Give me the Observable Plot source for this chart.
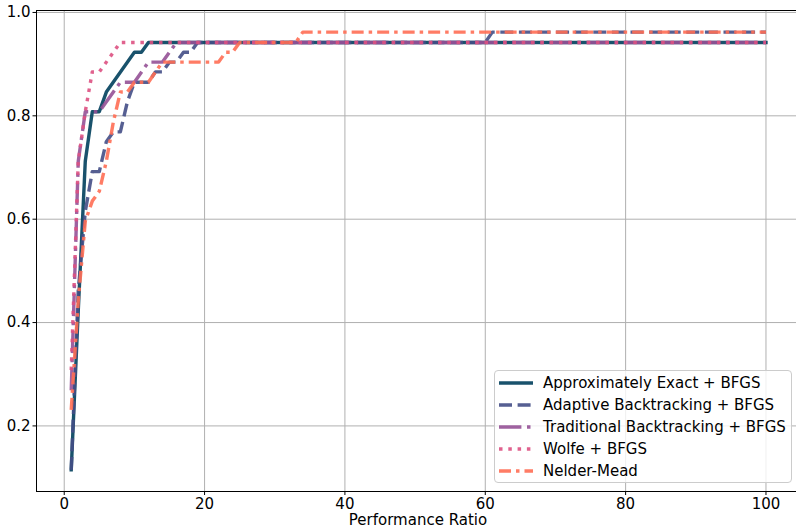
<!DOCTYPE html>
<html><head><meta charset="utf-8">
<script src="https://cdn.jsdelivr.net/npm/d3@7"></script>
<script src="https://cdn.jsdelivr.net/npm/@observablehq/plot@0.6"></script>
<style>
body{margin:0;background:#fff;}
#chart{position:relative;width:796px;height:528px;overflow:hidden;font-family:"DejaVu Sans",sans-serif;}
#legend{position:absolute;left:494px;top:370px;width:298px;height:113px;border:1px solid #cccccc;border-radius:4px;background:rgba(255,255,255,0.8);box-sizing:border-box;}
.row{position:absolute;left:0;height:22px;font-size:15px;line-height:22px;color:#000;white-space:nowrap;}
.row svg{position:absolute;left:3px;top:0;}
.row span{position:absolute;left:48px;top:0;}
#xlabel{position:absolute;left:36px;width:764px;top:513px;height:15px;line-height:15px;text-align:center;font-size:15px;color:#000;}
</style></head>
<body><div id="chart"></div>
<script>
// performance profile values (fraction of problems solved) at performance ratios
const seriesNames = ["Approximately Exact + BFGS","Adaptive Backtracking + BFGS","Traditional Backtracking + BFGS","Wolfe + BFGS","Nelder-Mead"];
const seriesColors = ["#003f5c","#444e86","#955196","#dd5182","#ff6e54"];
const seriesDash = ["none","13,5.6","22.4,5.6,3.5,5.6","3.5,5.8","12,5,3.5,5"];

const ratioApprox = [1,2,3,4,5,6,10,11,12,100];
const fracApprox  = [0.115,0.423,0.712,0.808,0.808,0.846,0.923,0.923,0.942,0.942];

const ratioAdaptive = [1,2,3,4,5,6,7,8,9,10,12,13,14,15,16,17,18,19,60,61,100];
const fracAdaptive  = [0.115,0.462,0.615,0.692,0.692,0.750,0.769,0.769,0.827,0.865,0.865,0.885,0.885,0.904,0.904,0.923,0.923,0.942,0.942,0.962,0.962];

const ratioTraditional = [1,2,3,5,8,10,12,14,16,100];
const fracTraditional  = [0.269,0.712,0.808,0.808,0.865,0.865,0.904,0.904,0.942,0.942];

const ratioWolfe = [1,2,3,4,5,8,100];
const fracWolfe  = [0.308,0.712,0.808,0.885,0.885,0.942,0.942];

const ratioNelder = [1,2,3,4,5,6,7,8,9,10,12,13,14,22,23,24,25,33,34,100];
const fracNelder  = [0.231,0.442,0.596,0.635,0.654,0.712,0.788,0.846,0.846,0.865,0.865,0.885,0.904,0.904,0.923,0.923,0.942,0.942,0.962,0.962];

const xTicks = [0,20,40,60,80,100];
const yTicks = [0.2,0.4,0.6,0.8,1.0];

const ratios = [ratioApprox,ratioAdaptive,ratioTraditional,ratioWolfe,ratioNelder];
const fracs = [fracApprox,fracAdaptive,fracTraditional,fracWolfe,fracNelder];
const series = seriesNames.map((name,i)=>({name,color:seriesColors[i],dash:seriesDash[i],
  rows: ratios[i].map((r,j)=>({r, v: fracs[i][j]}))}));

const xDomain = [-3.95, 104.35];
const yDomain = [0.0731, 1.0038];

const lineMarks = series.map(s => Plot.line(s.rows, {x:"r", y:"v", stroke:s.color, strokeWidth:3.4, strokeOpacity:0.9,
  strokeDasharray: s.dash, strokeLinecap: s.dash==="none" ? "square" : "butt", strokeLinejoin:"round"}));

const chart = Plot.plot({
  width: 796, height: 528,
  marginLeft: 36, marginRight: 0, marginTop: 10, marginBottom: 37,
  style: {fontFamily: "DejaVu Sans", fontSize: "15px", color: "#000", background: "#fff", overflow: "visible"},
  x: {domain: xDomain, label: null},
  y: {domain: yDomain, label: null},
  marks: [
    Plot.gridX(xTicks, {stroke: "#b0b0b0", strokeOpacity: 1, strokeWidth: 1}),
    Plot.gridY(yTicks, {stroke: "#b0b0b0", strokeOpacity: 1, strokeWidth: 1}),
    ...lineMarks,
    Plot.ruleX([xDomain[0]], {stroke: "#000", strokeWidth: 1}),
    Plot.ruleY([yDomain[0], yDomain[1]], {stroke: "#000", strokeWidth: 1}),
    Plot.axisX({ticks: xTicks, tickSize: 4, tickPadding: 2.5, tickFormat: d => String(d), label: null, fontSize: 15}),
    Plot.axisY({ticks: yTicks, tickSize: 3.5, tickPadding: 2.5, tickFormat: d => d.toFixed(1), label: null, fontSize: 15})
  ]
});
const root = document.getElementById("chart");
root.appendChild(chart);

const xl = document.createElement("div");
xl.id = "xlabel"; xl.textContent = "Performance Ratio";
root.appendChild(xl);

const legend = document.createElement("div");
legend.id = "legend";
series.forEach((s,i) => {
  const row = document.createElement("div");
  row.className = "row";
  row.style.top = (0.7 + 22*i) + "px";
  row.innerHTML = `<svg width="36" height="22"><line x1="1" x2="35" y1="11" y2="11" stroke="${s.color}" stroke-opacity="0.9" stroke-width="3.4" stroke-dasharray="${s.dash}" stroke-linecap="butt"/></svg><span>${s.name}</span>`;
  legend.appendChild(row);
});
root.appendChild(legend);
</script></body></html>
